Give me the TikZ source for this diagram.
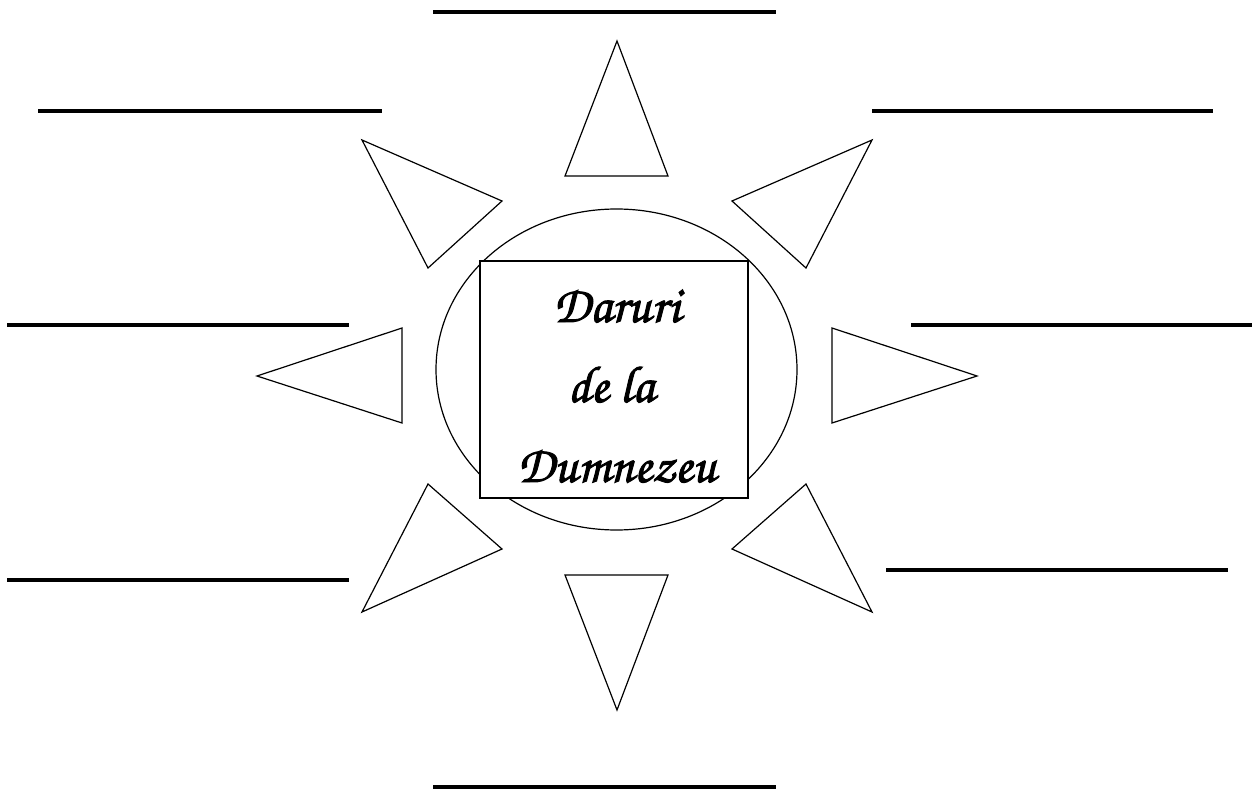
\documentclass[tikz,border=0pt]{standalone}
\usepackage{fontspec}
\newfontfamily\scriptf[FakeBold=1.8]{TeX Gyre Chorus}
\begin{document}
\begin{tikzpicture}[x=0.5pt,y=-0.5pt,
  blank/.style={line width=1.8pt},
  ray/.style={draw=black,line width=0.6pt,line join=miter},
  thin/.style={draw=black,line width=0.6pt},
  label/.style={anchor=base,inner sep=0pt,font=\scriptf\fontsize{26}{30}\selectfont}]
\useasboundingbox (0,0) rectangle (1253,792);
% answer lines
\draw[blank] (433,12) -- (776,12);
\draw[blank] (38,111) -- (382,111);
\draw[blank] (872,111) -- (1213,111);
\draw[blank] (7,325) -- (349,325);
\draw[blank] (911,325) -- (1252,325);
\draw[blank] (7,580) -- (349,580);
\draw[blank] (886,570) -- (1228,570);
\draw[blank] (433,787) -- (776,787);
% rays
\draw[ray] (617,41) -- (668,176) -- (565,176) -- cycle;
\draw[ray] (617,710) -- (668,575) -- (565,575) -- cycle;
\draw[ray] (257,376) -- (402,328) -- (402,423) -- cycle;
\draw[ray] (977,376) -- (832,328) -- (832,423) -- cycle;
\draw[ray] (362,140) -- (502,201) -- (428,268) -- cycle;
\draw[ray] (872,140) -- (732,201) -- (806,268) -- cycle;
\draw[ray] (362,612) -- (502,549) -- (428,484) -- cycle;
\draw[ray] (872,612) -- (732,549) -- (806,484) -- cycle;
% sun
\draw[thin] (616.5,369.5) ellipse [x radius=180.5, y radius=160.5];
\node[thin, fill=white, minimum width=134pt, minimum height=118.5pt, inner sep=0pt] (box) at (614,379.5) {};
\node[label] (t1) at (617,322) {Daruri};
\node[label] (t2) at (611,402) {de la};
\node[label] (t3) at (617,482) {Dumnezeu};
\end{tikzpicture}
\end{document}
